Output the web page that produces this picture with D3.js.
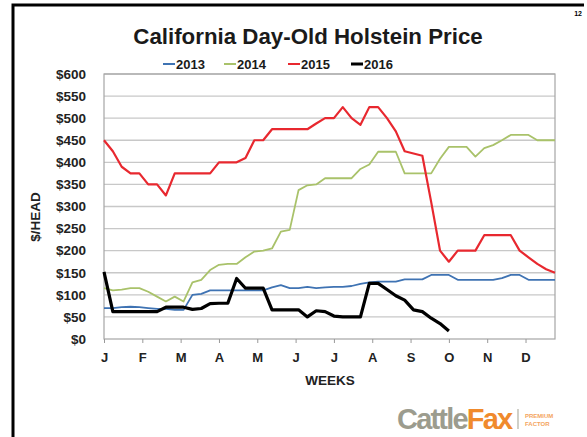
<!DOCTYPE html>
<head>
  <meta charset="utf-8">
  <style>
    body { margin: 0; background: #fff; font-family: 'Liberation Sans', Arial, sans-serif; }
  </style>
  <script src="https://cdn.jsdelivr.net/npm/d3@7"></script>
</head>
<body>
<div id=chart></div>
<script>
// weekly prices, $/head (week 0 = first week of January)
const months = ['J', 'F', 'M', 'A', 'M', 'J', 'J', 'A', 'S', 'O', 'N', 'D']
const y_ticks = [0, 50, 100, 150, 200, 250, 300, 350, 400, 450, 500, 550, 600]
const years = ['2013', '2014', '2015', '2016']
const price_2013 = [70, 70, 72, 73, 72, 70, 68, 68, 66, 66, 100, 102, 110, 110, 110, 110, 110, 110, 110, 117,
  122, 115, 115, 118, 115, 117, 118, 118, 120, 125, 128, 130, 130, 130, 135, 135, 135, 145, 145, 145,
  134, 134, 134, 134, 134, 138, 145, 145, 134, 134, 134, 134]
const price_2014 = [115, 110, 112, 115, 115, 107, 96, 85, 96, 85, 128, 134, 156, 168, 170, 170, 185, 198, 200, 205,
  243, 247, 337, 348, 350, 364, 364, 364, 364, 385, 395, 424, 424, 424, 375, 375, 375, 375, 408, 435,
  435, 435, 413, 432, 439, 450, 462, 462, 462, 450, 450, 450]
const price_2015 = [450, 425, 390, 375, 375, 350, 350, 325, 375, 375, 375, 375, 375, 400, 400, 400, 410, 450, 450, 475,
  475, 475, 475, 475, 488, 500, 500, 525, 500, 485, 525, 525, 500, 470, 425, 420, 415, 310, 200, 175,
  200, 200, 200, 235, 235, 235, 235, 200, 185, 170, 158, 150]
const price_2016 = [152, 62, 62, 62, 62, 62, 62, 72, 72, 72, 67, 69, 80, 81, 81, 137, 115, 115, 115, 66,
  66, 66, 66, 50, 64, 62, 52, 50, 50, 50, 126, 126, 112, 98, 88, 66, 62, 47, 35, 18]
const colors = ['#3f73b3', '#a9c26a', '#e8282f', '#000000']
const widths = [1.8, 1.8, 2.2, 3.2]

const width = 587, height = 437
const svg = d3.select('#chart').append('svg')
  .attr('width', width).attr('height', height)

// slide frame
svg.append('path').attr('d', 'M13,438 V5 H584')
  .attr('fill', 'none').attr('stroke', '#000').attr('stroke-width', 3)
svg.append('text').attr('x', 582).attr('y', 16).attr('text-anchor', 'end')
  .attr('font-size', 7).attr('font-weight', 'bold').text('12')

const x = d3.scaleLinear([0, 51], [104, 555])
const y = d3.scaleLinear([0, 600], [339, 74])

// gridlines
svg.append('g').selectAll('line').data(y_ticks.filter(d => d > 0)).join('line')
  .attr('x1', 104).attr('x2', 555)
  .attr('y1', d => y(d)).attr('y2', d => y(d))
  .attr('stroke', '#c8c8c8').attr('stroke-width', 1.4)
svg.append('rect').attr('x', 104).attr('y', 74).attr('width', 451).attr('height', 265)
  .attr('fill', 'none').attr('stroke', '#a6a6a6').attr('stroke-width', 1.2)

// y axis
const y_axis = svg.append('g').attr('transform', 'translate(104,0)')
  .call(d3.axisLeft(y).tickValues(y_ticks).tickSize(0).tickPadding(18).tickFormat(d => '$' + d))
y_axis.select('.domain').remove()
y_axis.selectAll('text').attr('font-size', 13.5).attr('font-weight', 'bold')
  .attr('font-family', "'Liberation Sans', Arial, sans-serif").attr('fill', '#222')

// x axis
const x_axis = svg.append('g').attr('transform', 'translate(0,339)')
  .call(d3.axisBottom(x).tickValues(months.map((m, i) => i * 52 / 12)).tickSize(4).tickPadding(10)
    .tickFormat((d, i) => months[i]))
x_axis.select('.domain').remove()
x_axis.selectAll('line').attr('stroke', '#999')
x_axis.selectAll('text').attr('font-size', 13).attr('font-weight', 'bold')
  .attr('font-family', "'Liberation Sans', Arial, sans-serif").attr('fill', '#222')

// axis titles
svg.append('text').attr('x', 330).attr('y', 385).attr('text-anchor', 'middle')
  .attr('font-size', 13.5).attr('font-weight', 'bold').attr('fill', '#222').text('WEEKS')
svg.append('text').attr('transform', 'translate(40,217) rotate(-90)').attr('text-anchor', 'middle')
  .attr('font-size', 13.5).attr('font-weight', 'bold').attr('fill', '#222').text('$/HEAD')

// title
svg.append('text').attr('x', 308).attr('y', 44).attr('text-anchor', 'middle')
  .attr('font-size', 22.3).attr('font-weight', 'bold').attr('fill', '#1a1a1a')
  .text('California Day-Old Holstein Price')

// series
const series = [price_2013, price_2014, price_2015, price_2016]
const line = d3.line().x((d, i) => x(i)).y(d => y(d))
svg.append('g').selectAll('path').data(series).join('path')
  .attr('d', line)
  .attr('fill', 'none')
  .attr('stroke', (d, i) => colors[i])
  .attr('stroke-width', (d, i) => widths[i])
  .attr('stroke-linejoin', 'round')

// legend
const legend_x = [163, 224, 288, 351]
const legend = svg.append('g').selectAll('g').data(years).join('g')
  .attr('transform', (d, i) => `translate(${legend_x[i]},64)`)
legend.append('line').attr('x1', 0).attr('x2', 12).attr('y1', 0).attr('y2', 0)
  .attr('stroke', (d, i) => colors[i]).attr('stroke-width', (d, i) => i === 3 ? 3 : 2)
legend.append('text').attr('x', 13).attr('y', 4.5)
  .attr('font-size', 13).attr('font-weight', 'bold').attr('fill', '#1a1a1a').text(d => d)

// logo
const logo = svg.append('g').attr('transform', 'translate(397,429)')
logo.append('text').attr('font-size', 29).attr('font-weight', 'bold').attr('letter-spacing', -1.8)
  .attr('font-family', "'Liberation Sans Narrow', 'Liberation Sans', Arial, sans-serif")
  .call(t => t.append('tspan').attr('fill', '#9c9c8e').text('Cattle'))
  .call(t => t.append('tspan').attr('fill', '#f08a2c').text('Fax'))
logo.append('line').attr('x1', 121).attr('x2', 121).attr('y1', -20).attr('y2', 0)
  .attr('stroke', '#b0b0a4').attr('stroke-width', 1.2)
logo.append('text').attr('x', 128).attr('y', -11).attr('font-size', 6).attr('font-weight', 'bold')
  .attr('fill', '#f4a460').text('PREMIUM')
logo.append('text').attr('x', 128).attr('y', -3).attr('font-size', 6).attr('font-weight', 'bold')
  .attr('fill', '#f4a460').text('FACTOR')
</script>
</body>
